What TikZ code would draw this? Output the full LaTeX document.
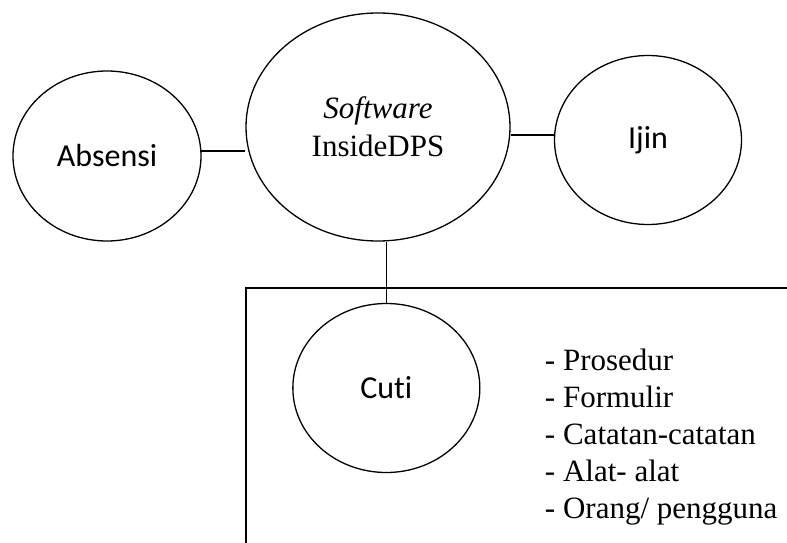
\documentclass[tikz,border=0pt]{standalone}
\usepackage{fontspec}
\setmainfont{Liberation Serif}
\newfontfamily\calibri[Ligatures=NoCommon]{Carlito}
\usetikzlibrary{shapes.geometric,positioning}

\begin{document}
\begin{tikzpicture}[x=1pt,y=-1pt,line width=1.3pt,
  lingkaran/.style={ellipse,draw,inner sep=0pt,font=\calibri\fontsize{32}{37}\selectfont},
  every node/.style={font=\fontsize{31}{37}\selectfont}]
\useasboundingbox (0,0) rectangle (787,543);
\node[lingkaran,minimum width=264,minimum height=228,align=center,font=\fontsize{31}{38}\selectfont] (software) at (378,127) {\textit{Software}\\InsideDPS};
\node[lingkaran,minimum width=188,minimum height=170] (absensi) at (107,156) {Absensi};
\node[lingkaran,minimum width=187,minimum height=169] (ijin) at (648,140) {Ijin};
\node[lingkaran,minimum width=187,minimum height=169] (cuti) at (386.35,388) {Cuti};
\draw (absensi.3) -- (absensi.3 -| software.west);
\draw (ijin.177) -- (ijin.177 -| software.east);
% garis pembatas
\coordinate (pojok) at (246,288);
\coordinate (kanan) at (787,288);
\coordinate (bawah) at (246,543);
\draw (kanan) -- (pojok) -- (bawah);
\draw (cuti.north) -- (cuti.north |- software.south);
\node[anchor=base west,align=left] (daftar) at (541,518) {- Prosedur\\- Formulir\\- Catatan-catatan\\- Alat- alat\\- Orang/ pengguna};
\end{tikzpicture}
\end{document}
